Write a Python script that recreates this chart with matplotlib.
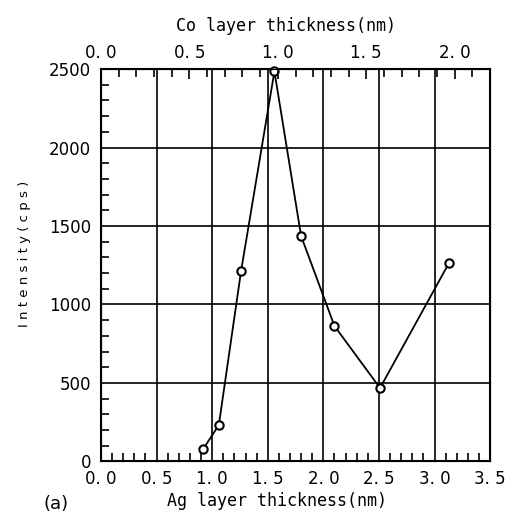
import matplotlib
matplotlib.use("Agg")
import matplotlib.pyplot as plt
from matplotlib.ticker import MultipleLocator, FixedLocator, FixedFormatter

ag_thickness = [0.92, 1.06, 1.26, 1.56, 1.80, 2.10, 2.51, 3.13]
intensity = [80, 232, 1213, 2485, 1436, 863, 468, 1264]

ag_ticks = [0.0, 0.5, 1.0, 1.5, 2.0, 2.5, 3.0, 3.5]
ag_labels = ["0. 0", "0. 5", "1. 0", "1. 5", "2. 0", "2. 5", "3. 0", "3. 5"]
co_ticks = [0.0, 0.5, 1.0, 1.5, 2.0]
co_labels = ["0. 0", "0. 5", "1. 0", "1. 5", "2. 0"]
y_ticks = [0, 500, 1000, 1500, 2000, 2500]
y_labels = ["0", "500", "1000", "1500", "2000", "2500"]

plt.rcParams['font.family'] = ['DejaVu Sans']

W, H = 510, 517
fig = plt.figure(figsize=(W / 100, H / 100), dpi=100)
ax = fig.add_axes([0.198, 0.1074, 0.763, 0.7591])

ax.plot(ag_thickness, intensity, color="black", lw=1.3, marker="o", ms=6,
        mfc="white", mec="black", mew=1.5, zorder=5, clip_on=False)

ax.set_xlim(0, 3.5)
ax.set_ylim(0, 2500)
ax.xaxis.set_major_locator(FixedLocator(ag_ticks))
ax.xaxis.set_major_formatter(FixedFormatter(ag_labels))
ax.xaxis.set_minor_locator(MultipleLocator(0.1))
ax.yaxis.set_major_locator(FixedLocator(y_ticks))
ax.yaxis.set_major_formatter(FixedFormatter(y_labels))
ax.yaxis.set_minor_locator(MultipleLocator(100))
ax.grid(True, which="major", color="black", lw=1.2)
ax.tick_params(axis="both", which="both", direction="in", colors="black",
               labelsize=12, width=1.2)
ax.tick_params(which="major", length=0)
ax.tick_params(which="minor", length=6)
ax.tick_params(axis="y", which="major", pad=7)
ax.tick_params(axis="x", which="major", pad=6)
for s in ax.spines.values():
    s.set_linewidth(1.5)

ax2 = ax.twiny()
ax2.set_xlim(0, 2.2)
ax2.xaxis.set_major_locator(FixedLocator(co_ticks))
ax2.xaxis.set_major_formatter(FixedFormatter(co_labels))
ax2.xaxis.set_minor_locator(MultipleLocator(0.1))
ax2.tick_params(axis="x", which="both", direction="in", labelsize=12, width=1.2)
ax2.tick_params(which="major", length=7, pad=5)
ax2.tick_params(which="minor", length=6)

ax.set_xlabel("Ag layer thickness(nm)", fontsize=12, family="DejaVu Sans Mono")
ax.xaxis.set_label_coords(0.452, -0.078)
ax2.set_xlabel("Co layer thickness(nm)", fontsize=12, family="DejaVu Sans Mono")
ax2.xaxis.set_label_coords(0.476, 1.097)
ax.set_ylabel("I n t e n s i t y ( c p s )", fontsize=9.5)
ax.yaxis.set_label_coords(-0.18, 0.53)
fig.text(56 / W, 1 - 504 / H, "(a)", fontsize=13, ha="center", va="center")

fig.savefig("out.png", dpi=100)
